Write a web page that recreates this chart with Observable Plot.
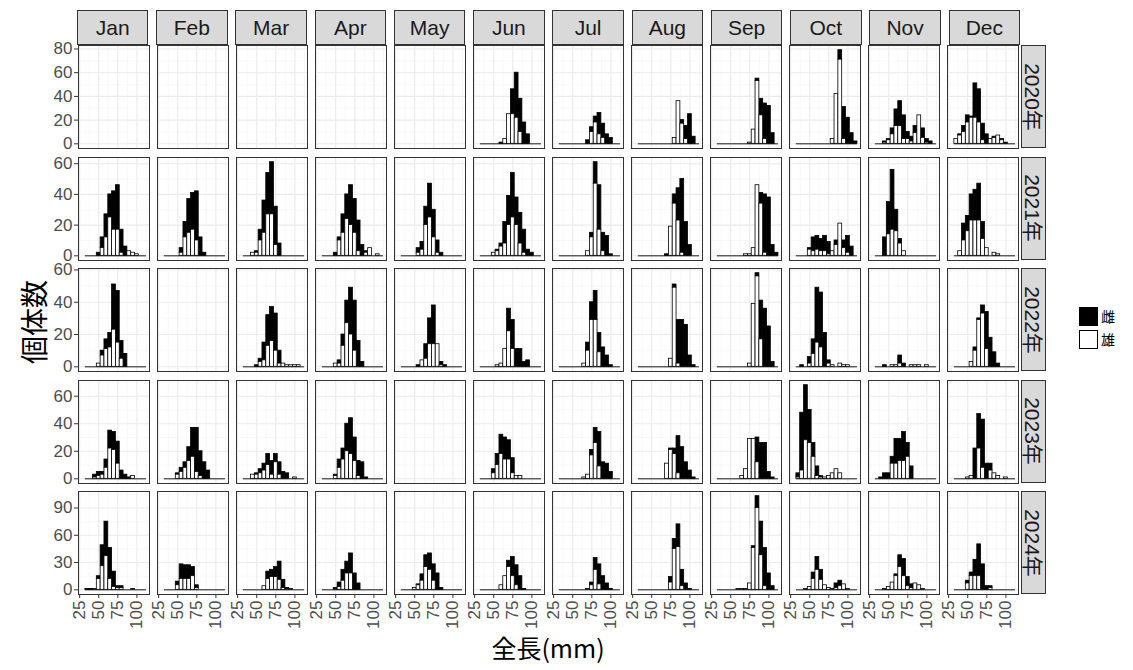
<!DOCTYPE html>
<html><head><meta charset="utf-8">
<script src="https://cdn.jsdelivr.net/npm/d3@7"></script>
<script src="https://cdn.jsdelivr.net/npm/@observablehq/plot@0.6"></script>
<style>
body{margin:0;background:#fff;font-family:"Liberation Sans",Arial,sans-serif;}
#c{position:relative;width:1133px;height:670px;overflow:hidden;}
.row{position:absolute;left:0;overflow:visible;}
.strip{position:absolute;background:#d9d9d9;border:1px solid #333;box-sizing:border-box;color:#1a1a1a;font-size:21px;display:flex;align-items:center;justify-content:center;}
.rs span{display:inline-block;transform:rotate(90deg);white-space:nowrap;font-family:"Liberation Sans","Noto Sans CJK JP",sans-serif;}
</style></head>
<body><div id="c"></div>
<script>
const months=["Jan","Feb","Mar","Apr","May","Jun","Jul","Aug","Sep","Oct","Nov","Dec"];
const years=["2020年","2021年","2022年","2023年","2024年"];
const yTicks=[[0,20,40,60,80],[0,20,40,60],[0,20,40,60],[0,20,40,60],[0,30,60,90]];
const xTicks=[25,50,75,100];
const binWidth=5;

const start2020=[null,null,null,null,null,60,70,80,75,80,45,35];
const total2020=[null,null,null,null,null,[1,4,25,46,60,38,18,8],[3,14,23,26,17,8,5],[5,36,20,15,25,6],[1,12,55,38,34,32,9],[4,42,79,31,22,9,2],[2,4,13,29,36,24,10,6,15,24,13,4,2],[4,8,15,24,23,51,46,17,8,4,6,7,4,1]];
const male2020=[null,null,null,null,null,[0,4,25,25,22,10,0,0],[0,10,18,8,5,0,0],[5,36,17,4,0,0],[1,12,53,24,4,0,0],[4,42,71,4,0,0,0],[1,3,8,15,15,4,4,2,9,24,5,1,0],[4,7,10,18,22,22,18,3,0,4,5,7,3,0]];

const start2021=[50,55,45,50,55,50,70,70,70,50,45,40];
const total2021=[[2,12,27,40,42,46,17,6,3,2,1],[5,22,37,41,42,12,2],[2,3,17,36,54,61,32,8],[2,12,27,40,46,37,23,7,3,5,0,1],[5,9,32,47,30,10,2],[2,4,8,22,39,54,38,28,17,4,2],[3,15,61,46,15,13,1],[1,19,40,44,50,22,7],[1,1,5,46,41,40,38,7,2],[5,12,13,11,13,9,3,10,21,10,13,6],[12,35,56,30,11,3],[3,21,26,40,43,47,22,5,0,2,1]];
const male2021=[[0,5,12,25,17,17,2,0,3,2,1],[2,12,15,17,10,0,0],[2,2,10,15,27,27,7,0],[0,10,15,24,20,15,3,0,2,5,0,1],[2,4,20,25,12,2,0],[2,3,6,8,20,25,20,8,2,0,0],[3,12,47,17,3,0,0],[0,19,34,23,2,0,0],[1,1,5,46,34,2,0,0,0],[4,3,4,3,3,1,3,7,21,5,2,0],[0,14,17,16,8,3],[3,10,16,23,23,23,11,5,0,2,1]];

const start2022=[50,null,50,50,55,55,65,75,75,40,45,55];
const total2022=[[2,10,17,21,51,47,16,8],null,[1,5,15,32,37,33,10,2,1,1,1,1],[2,4,20,41,49,41,16,3],[1,4,14,30,38,14,3,1],[1,2,11,36,29,11,11,3,4],[2,15,40,47,21,12,7,1],[5,51,29,29,26,7,1],[2,39,58,41,36,25,3],[1,0,6,17,49,46,21,4,1,0,2,1,1],[1,0,1,1,7,2,0,1,1,1,0,1],[3,12,30,38,34,18,9,2]];
const male2022=[[2,7,11,12,23,15,5,0],null,[0,3,4,13,16,10,2,2,1,1,1,1],[2,2,13,27,20,10,0,0],[0,4,5,14,14,14,1,0],[1,2,11,22,11,0,0,0,0],[2,10,29,29,9,0,0,0],[5,49,2,0,0,0,0],[2,39,56,17,0,0,0],[0,0,2,8,15,12,0,2,1,0,2,1,1],[0,0,1,1,2,0,0,1,1,1,0,1],[3,10,29,33,11,0,0,0]];

const start2023=[45,50,45,50,null,50,65,70,65,35,40,50];
const total2023=[[3,5,5,14,35,34,27,6,3,1,2],[4,8,12,23,37,37,20,12,6],[3,4,7,11,18,13,18,12,5,4,0,1],[3,14,22,40,44,30,13,12,1],null,[7,18,32,30,28,15,2,2],[1,3,21,37,34,12,11,5],[11,22,22,31,23,12,6,1],[2,7,29,29,30,26,26,5,1],[4,48,68,50,26,9,2,1,2,4,7,4],[1,4,4,16,29,29,34,26,9],[1,2,22,47,43,11,11,4,2,0,1]];
const male2023=[[1,2,3,8,22,21,11,0,0,0,2],[3,5,8,13,16,5,2,0,0],[3,3,4,6,10,3,12,3,0,0,0,1],[2,8,14,20,18,13,2,0,0],null,[4,10,18,14,14,4,2,2],[1,3,17,26,9,0,0,0],[11,21,18,4,0,0,0,0],[2,7,29,29,12,0,0,0,0],[1,6,28,26,16,2,1,1,2,4,7,4],[0,0,0,11,11,13,13,16,0],[1,2,0,22,8,0,6,4,2,0,1]];

const start2024=[35,50,60,50,50,60,70,75,60,45,45,50];
const total2024=[[1,1,1,15,49,75,46,20,4,4,0,0,1],[9,28,27,27,25,5],[4,20,22,25,31,11,2,1],[2,8,22,31,40,18,7],[2,6,17,38,40,28,18,2],[5,15,32,36,27,15,1],[1,8,35,28,15,7,1],[14,56,72,22,7,1],[1,1,1,7,48,103,75,46,18,4],[1,3,19,36,22,5,2,1,7,10,6,1],[1,3,8,17,38,34,14,6,7,5,1],[10,19,33,50,28,4,4]];
const male2024=[[0,0,1,12,26,37,12,3,2,2,0,0,1],[5,12,12,12,15,2],[4,12,14,14,11,2,1,1],[1,3,10,18,18,0,0],[2,5,10,25,22,10,0,0],[5,15,25,15,5,0,0],[1,5,22,6,0,0,0],[8,45,47,4,0,0],[1,1,1,7,46,90,38,4,0,0],[1,3,12,22,11,5,2,1,2,4,6,1],[1,3,8,15,25,15,4,2,7,5,1],[7,15,15,15,0,0,2]];

const starts=[start2020,start2021,start2022,start2023,start2024];
const totals=[total2020,total2021,total2022,total2023,total2024];
const males=[male2020,male2021,male2022,male2023,male2024];

const C=document.getElementById("c");
const L=77,R=1020,panelH=103,pitchY=111.5,top0=45;
const fxPadIn=0.1;
const step=(R-L)/(12-fxPadIn), bw=step*(1-fxPadIn);
const allMonths=months.map(m=>({month:m}));

years.forEach((yr,yi)=>{
  const bars=[], present=[];
  months.forEach((m,mi)=>{
    const s=starts[yi][mi]; if(s==null) return;
    present.push({month:m});
    totals[yi][mi].forEach((t,k)=>{
      const c=s+k*binWidth, ml=males[yi][mi][k];
      bars.push({month:m,x1:c-binWidth/2,x2:c+binWidth/2,total:t,male:ml});
    });
  });
  const mx=d3.max(bars,d=>d.total);
  const last=yi===years.length-1;
  const mt=10, mb= last?48:10;
  const ticks=yTicks[yi];
  const dt=ticks[1]-ticks[0];
  const minorY=d3.range(ticks[0]+dt/2, mx*1.05, dt);
  const minorX=[37.5,62.5,87.5,112.5];
  const plot=Plot.plot({
    width:1133,height:panelH+mt+mb,marginLeft:L,marginRight:1133-R,marginTop:mt,marginBottom:mb,
    style:{fontSize:"17px",fontFamily:"Liberation Sans, Arial, sans-serif",color:"#4d4d4d",background:"transparent",overflow:"visible"},
    fx:{domain:months,paddingInner:fxPadIn,paddingOuter:0,axis:null,label:null},
    x:{domain:[23.5,116.5],label:null,axis:null},
    y:{domain:[-0.05*mx,1.05*mx],label:null,axis:null},
    marks:[
      Plot.ruleY(allMonths,{fx:"month",y:0,stroke:"none"}),
      Plot.ruleX(minorX,{stroke:"#f4f4f4",strokeWidth:0.6}),
      Plot.ruleY(minorY,{stroke:"#f4f4f4",strokeWidth:0.6}),
      Plot.ruleX(xTicks,{stroke:"#ebebeb",strokeWidth:1.1}),
      Plot.ruleY(ticks,{stroke:"#ebebeb",strokeWidth:1.1}),
      Plot.ruleY(present,{fx:"month",y:0,x1:32.5,x2:112.5,stroke:"#000",strokeWidth:0.9}),
      Plot.rectY(bars,{fx:"month",x1:"x1",x2:"x2",y1:"male",y2:"total",fill:"#000",stroke:"#000",strokeWidth:0.8}),
      Plot.rectY(bars,{fx:"month",x1:"x1",x2:"x2",y1:0,y2:"male",fill:"#fff",stroke:"#000",strokeWidth:0.8}),
      Plot.frame({stroke:"#333",strokeWidth:1}),
      Plot.axisY({ticks:ticks,anchor:"left",tickSize:4,tickPadding:2,label:null,stroke:"#333"}),
      ...(last?[Plot.axisX({ticks:xTicks,anchor:"bottom",tickSize:4,tickPadding:2,tickRotate:-90,label:null,stroke:"#333"})]:[])
    ]
  });
  plot.classList.add("row");
  plot.style.top=(top0+yi*pitchY-mt)+"px";
  C.appendChild(plot);
  const rs=document.createElement("div");
  rs.className="strip rs";
  Object.assign(rs.style,{left:(R+1)+"px",top:(top0+yi*pitchY)+"px",width:"25px",height:panelH+"px"});
  rs.innerHTML="<span>"+yr+"</span>";
  C.appendChild(rs);
});
months.forEach((m,mi)=>{
  const s=document.createElement("div");
  s.className="strip";
  Object.assign(s.style,{left:(L+mi*step)+"px",top:"10px",width:bw+"px",height:"35px"});
  s.textContent=m;
  C.appendChild(s);
});
function txt(t,css){const d=document.createElement("div");d.textContent=t;d.style.position="absolute";Object.assign(d.style,css);C.appendChild(d);return d;}
txt("個体数",{left:"-12px",top:"302px",fontSize:"28px",fontFamily:"Noto Sans CJK JP",color:"#000",transform:"rotate(-90deg)",width:"90px",textAlign:"center"});
txt("全長(mm)",{left:"448px",top:"630px",width:"200px",textAlign:"center",fontSize:"25px",lineHeight:"34px",fontFamily:"Noto Sans CJK JP",color:"#000"});
const leg=[["雌","#000"],["雄","#fff"]];
leg.forEach(([lab,col],i)=>{
  const b=document.createElement("div");
  Object.assign(b.style,{position:"absolute",left:"1079px",top:(307+i*23)+"px",width:"19px",height:"19px",background:col,border:"1px solid #000",boxSizing:"border-box"});
  C.appendChild(b);
  txt(lab,{left:"1101px",top:(306+i*23)+"px",fontSize:"14px",fontFamily:"Noto Sans CJK JP",color:"#000"});
});
</script></body></html>
